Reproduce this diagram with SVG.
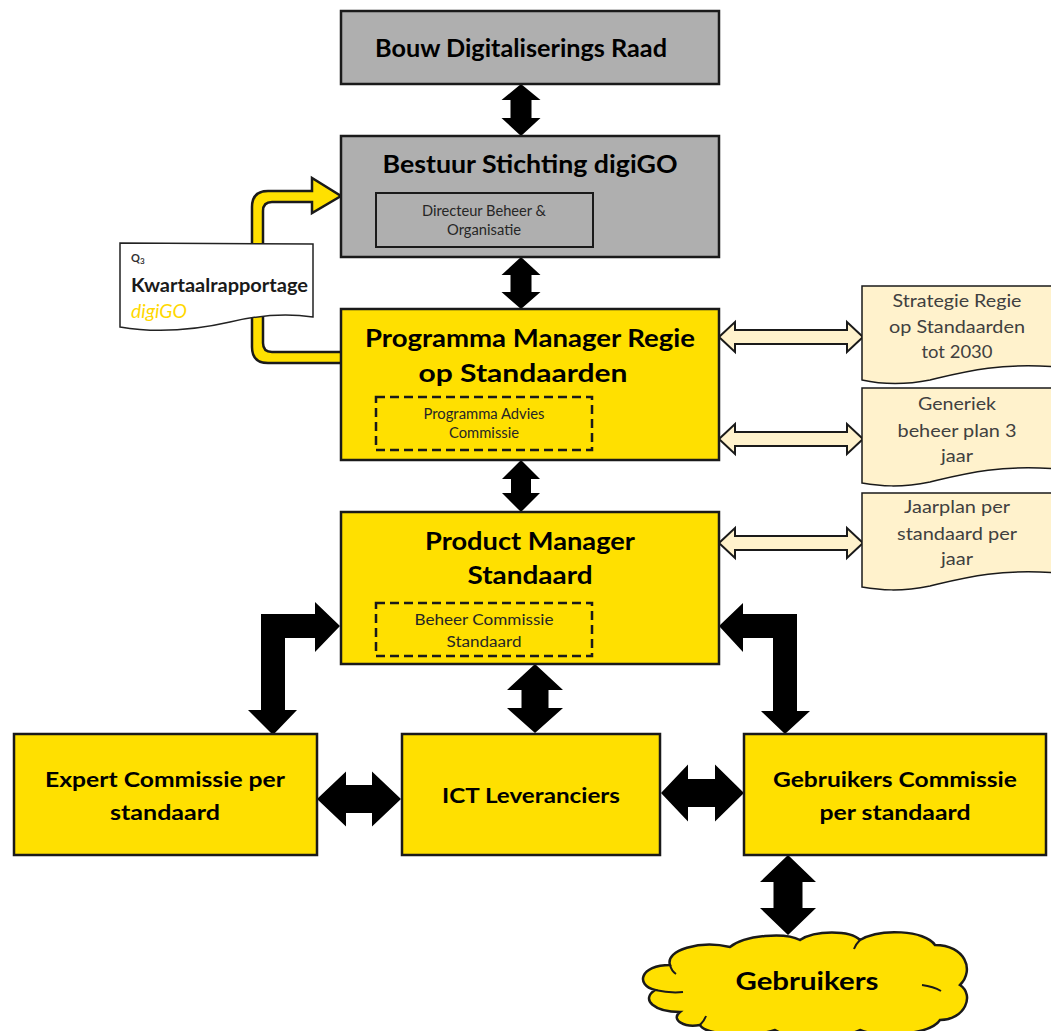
<svg xmlns="http://www.w3.org/2000/svg" width="1051" height="1031" viewBox="0 0 1051 1031">
<style>
  .box{stroke:#1a1a1a;stroke-width:2.5}
  .gray{fill:#afafaf}
  .yel{fill:#ffe000}
  .dash{fill:none;stroke:#1a1a1a;stroke-width:2.5;stroke-dasharray:9 5}
  .blk{fill:#000}
  .cream{fill:#fff2cc;stroke:#1a1a1a;stroke-width:2}
  .doc{fill:#fff2cc;stroke:#1a1a1a;stroke-width:1.5}
  text{font-family:Lato,"Liberation Sans",sans-serif;text-anchor:middle}
  .t1{font-size:24px;font-weight:bold;fill:#000}
  .t2{font-size:20px;font-weight:bold;fill:#000}
  .sm{font-size:14.5px;fill:#262626}
  .dt{font-size:17.5px;fill:#404040}
</style>
<rect width="1051" height="1031" fill="#fff"/>
<g id="connectors">
  <path class="blk" d="M521,84 L540.5,100 L531.5,100 L531.5,118 L540.5,118 L521,136 L501.5,118 L510.5,118 L510.5,100 L501.5,100 Z"/>
  <path class="blk" d="M521,257 L540.5,275 L531.5,275 L531.5,292 L540.5,292 L521,309 L501.5,292 L510.5,292 L510.5,275 L501.5,275 Z"/>
  <path class="blk" d="M521,460 L540,479 L531,479 L531,493 L540,493 L521,512 L502,493 L511,493 L511,479 L502,479 Z"/>
  <path class="blk" d="M535,664 L563,690 L548.5,690 L548.5,708 L563,708 L535,733 L507,708 L521.5,708 L521.5,690 L507,690 Z"/>
  <path class="blk" d="M788,855 L816,882 L802.5,882 L802.5,908 L816,908 L788,935 L760,908 L773.5,908 L773.5,882 L760,882 Z"/>
  <path class="blk" d="M317,799 L346,771.5 L346,785 L372,785 L372,771.5 L401,799 L372,826.5 L372,813 L346,813 L346,826.5 Z"/>
  <path class="blk" d="M661,793 L688,764.5 L688,779 L715,779 L715,764.5 L744,793 L715,821.5 L715,807 L688,807 L688,821.5 Z"/>
  <path class="blk" d="M261,614 L315,614 L315,602 L340,626 L315,652 L315,638 L285,638 L285,710 L297,710 L273,735 L248,710 L261,710 Z"/>
  <path class="blk" d="M719,626 L743,603 L743,614 L797,614 L797,711 L810,711 L785,734 L761,711 L773,711 L773,638 L743,638 L743,652 Z"/>
  <path class="cream" d="M719,337 L735,322 L735,330 L847,330 L847,322 L863,337 L847,352 L847,344 L735,344 L735,352 Z"/>
  <path class="cream" d="M719,439 L735,424 L735,432 L847,432 L847,424 L863,439 L847,454 L847,446 L735,446 L735,454 Z"/>
  <path class="cream" d="M719,543 L735,528 L735,536 L847,536 L847,528 L863,543 L847,558 L847,550 L735,550 L735,558 Z"/>
  <path fill="#ffe000" stroke="#1a1a1a" stroke-width="2.5" stroke-linejoin="miter" d="M341,363 L268,363 Q252,363 252,347 L252,207 Q252,191 268,191 L312,191 L312,178 L341,196 L312,213 L312,202 L272,202 Q263,202 263,211 L263,343 Q263,352 272,352 L341,352"/>
</g>
<g id="node-bdr">
  <rect class="box gray" x="341" y="11" width="378" height="73"/>
  <text class="t1" x="521" y="57" textLength="292" lengthAdjust="spacingAndGlyphs">Bouw Digitaliserings Raad</text>
</g>
<g id="node-bestuur">
  <rect class="box gray" x="341" y="136" width="378" height="121"/>
  <text class="t1" x="530" y="173" font-size="25" textLength="295" lengthAdjust="spacingAndGlyphs">Bestuur Stichting digiGO</text>
  <rect class="gray" x="376" y="193" width="217" height="54" stroke="#1a1a1a" stroke-width="2"/>
  <text class="sm" x="484" y="216" textLength="124" lengthAdjust="spacingAndGlyphs">Directeur Beheer &amp;</text>
  <text class="sm" x="484" y="235" textLength="74" lengthAdjust="spacingAndGlyphs">Organisatie</text>
</g>
<g id="node-programma">
  <rect class="box yel" x="341" y="309" width="378" height="151"/>
  <text class="t1" x="530" y="347" textLength="330" lengthAdjust="spacingAndGlyphs">Programma Manager Regie</text>
  <text class="t1" x="523" y="382" textLength="209" lengthAdjust="spacingAndGlyphs">op Standaarden</text>
  <rect class="dash" x="376" y="397" width="216" height="53"/>
  <text class="sm" x="484" y="419" textLength="121" lengthAdjust="spacingAndGlyphs">Programma Advies</text>
  <text class="sm" x="484" y="438" textLength="70" lengthAdjust="spacingAndGlyphs">Commissie</text>
</g>
<g id="node-product">
  <rect class="box yel" x="341" y="512" width="378" height="152"/>
  <text class="t1" x="530" y="550" textLength="210" lengthAdjust="spacingAndGlyphs">Product Manager</text>
  <text class="t1" x="530" y="584" textLength="125" lengthAdjust="spacingAndGlyphs">Standaard</text>
  <rect class="dash" x="376" y="603" width="216" height="53"/>
  <text class="sm" x="484" y="625" textLength="139" lengthAdjust="spacingAndGlyphs">Beheer Commissie</text>
  <text class="sm" x="484" y="647" textLength="75" lengthAdjust="spacingAndGlyphs">Standaard</text>
</g>
<g id="node-expert">
  <rect class="box yel" x="14" y="734" width="303" height="121"/>
  <text class="t2" x="165" y="787" textLength="240" lengthAdjust="spacingAndGlyphs">Expert Commissie per</text>
  <text class="t2" x="165" y="820" textLength="110" lengthAdjust="spacingAndGlyphs">standaard</text>
</g>
<g id="node-ict">
  <rect class="box yel" x="402" y="734" width="258" height="121"/>
  <text class="t2" x="531" y="803" textLength="178" lengthAdjust="spacingAndGlyphs">ICT Leveranciers</text>
</g>
<g id="node-gebruikerscommissie">
  <rect class="box yel" x="744" y="734" width="302" height="121"/>
  <text class="t2" x="895" y="787" textLength="244" lengthAdjust="spacingAndGlyphs">Gebruikers Commissie</text>
  <text class="t2" x="895" y="820" textLength="151" lengthAdjust="spacingAndGlyphs">per standaard</text>
</g>
<g id="node-gebruikers">
  <path fill="#ffe000" stroke="#1a1a1a" stroke-width="2.5" d="M680,1012 C655,1012 640,1000 655,990 C635,985 640,965 670,965 C665,950 700,940 730,947 C745,935 785,932 800,940 C815,930 850,930 860,940 C880,928 925,930 935,945 C965,945 975,970 960,985 C975,995 965,1020 940,1020 C930,1035 880,1038 860,1030 C840,1040 790,1040 775,1030 C750,1038 705,1035 700,1025 C685,1028 670,1020 680,1012 Z"/>
  <path fill="none" stroke="#1a1a1a" stroke-width="2" d="M655,990 C664,992 674,993 683,992 M670,965 C671,969 673,972 676,974 M922,985 C930,986 936,988 941,991 M860,940 C857,943 855,946 854,949 M700,1025 C703,1022 705,1019 706,1016"/>
  <text class="t1" x="807" y="990" font-size="26" textLength="143" lengthAdjust="spacingAndGlyphs">Gebruikers</text>
</g>
<g id="node-kwartaal">
  <path fill="#fff" stroke="#222" stroke-width="1.5" d="M120,243 L313,244 L313,317 C285,313 255,316 230,322 C195,330 155,333 120,327 Z"/>
  <text x="131" y="262" style="text-anchor:start;font-size:11px;font-weight:bold;fill:#333">Q<tspan dy="2" font-size="8">3</tspan></text>
  <text x="131" y="292" style="text-anchor:start;font-size:19px;font-weight:bold;fill:#1a1a1a" textLength="177" lengthAdjust="spacingAndGlyphs">Kwartaalrapportage</text>
  <text x="131" y="318" style="text-anchor:start;font-size:19px;font-style:italic;fill:#ffd800" textLength="56" lengthAdjust="spacingAndGlyphs">digiGO</text>
</g>
<g id="node-strategie">
  <path class="doc" d="M862,286 L1056,286 L1056,367 C1000,362 960,373 930,380 C900,386 880,384 862,380 Z"/>
  <text class="dt" x="957" y="307" textLength="129" lengthAdjust="spacingAndGlyphs">Strategie Regie</text>
  <text class="dt" x="957" y="333" textLength="136" lengthAdjust="spacingAndGlyphs">op Standaarden</text>
  <text class="dt" x="957" y="358" textLength="71" lengthAdjust="spacingAndGlyphs">tot 2030</text>
</g>
<g id="node-generiek">
  <path class="doc" d="M862,388 L1056,388 L1056,469 C1000,464 960,475 930,482 C900,488 880,486 862,483 Z"/>
  <text class="dt" x="957" y="410" textLength="78" lengthAdjust="spacingAndGlyphs">Generiek</text>
  <text class="dt" x="957" y="437" textLength="119" lengthAdjust="spacingAndGlyphs">beheer plan 3</text>
  <text class="dt" x="957" y="462" textLength="32" lengthAdjust="spacingAndGlyphs">jaar</text>
</g>
<g id="node-jaarplan">
  <path class="doc" d="M862,493 L1056,493 L1056,573 C1000,568 960,579 930,586 C900,592 880,590 862,587 Z"/>
  <text class="dt" x="957" y="513" textLength="106" lengthAdjust="spacingAndGlyphs">Jaarplan per</text>
  <text class="dt" x="957" y="540" textLength="120" lengthAdjust="spacingAndGlyphs">standaard per</text>
  <text class="dt" x="957" y="565" textLength="32" lengthAdjust="spacingAndGlyphs">jaar</text>
</g>
</svg>
